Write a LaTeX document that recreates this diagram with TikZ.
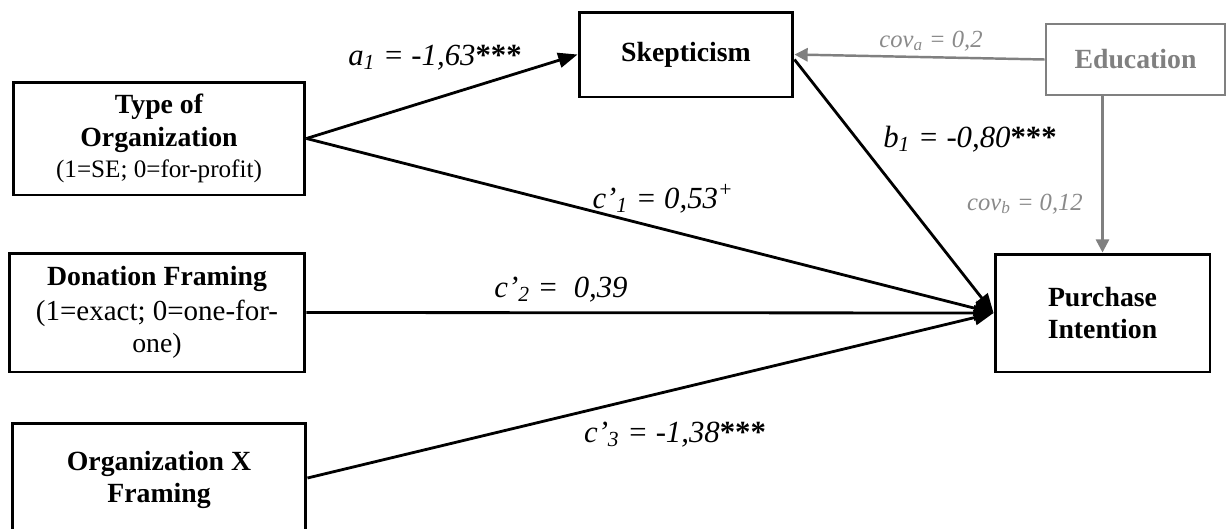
\documentclass[tikz,border=0pt]{standalone}
\usepackage{fontspec}
\setmainfont{Liberation Serif}
\usetikzlibrary{arrows.meta,calc}
\definecolor{edgray}{HTML}{808080}
\definecolor{txgray}{HTML}{8A8A8A}
\tikzset{
  box/.style={draw=black, line width=1.7pt, fill=white, align=center, inner sep=0pt,
    font=\fontsize{15.8}{18.5}\selectfont\bfseries},
  graybox/.style={draw=edgray, line width=1.5pt, fill=white, align=center, inner sep=0pt,
    text=edgray, font=\fontsize{15.8}{18.5}\selectfont\bfseries},
  conn/.style={draw=black, line width=1.6pt, -{Triangle[length=11pt,width=8.5pt]}},
  grayconn/.style={draw=edgray, line width=1.4pt, -{Triangle[length=7.5pt,width=7.5pt]}},
  lab/.style={anchor=base, inner sep=0pt, font=\fontsize{17.5}{20}\selectfont\itshape},
  glab/.style={anchor=base, inner sep=0pt, text=txgray, font=\fontsize{14}{16}\selectfont\itshape}
}
\begin{document}
\begin{tikzpicture}[x=0.02cm,y=-0.02cm]
\useasboundingbox (0,0) rectangle (1227,528);
\clip (0,0) rectangle (1227,528);
% boxes
\node[box, minimum width=5.84cm, minimum height=2.26cm] (typ) at (159,138.5)
  {Type of\\Organization\\[-1pt]\fontsize{14.3}{16.5}\selectfont\mdseries (1=SE; 0=for-profit)};
\node[box, minimum width=5.92cm, minimum height=2.38cm] (don) at (157,312.5)
  {Donation Framing\\[1pt]\fontsize{16.5}{19}\selectfont\mdseries (1=exact; 0=one-for-\\\mdseries one)};
\node[box, minimum width=5.88cm, minimum height=2.28cm] (orgx) at (159,480)
  {Organization X\\Framing};
\node[box, minimum width=4.28cm, minimum height=1.7cm] (skep) at (686,54.5) {Skepticism};
\node[graybox, minimum width=3.58cm, minimum height=1.42cm] (edu) at (1135.5,59.5) {Education};
\node[box, minimum width=4.3cm, minimum height=2.36cm] (pur) at (1102.5,313) {Purchase\\Intention};
% connectors
\draw[conn] (typ.east) -- (skep.west);
\draw[conn] (typ.east) -- (pur.west);
\draw[conn] (don.east) -- (pur.west);
\draw[conn] ([yshift=0.04cm]orgx.east) -- (pur.west);
\draw[conn] ([yshift=-0.1cm]skep.east) -- (pur.west);
\draw[grayconn] (edu.west) -- (skep.east);
\draw[grayconn] (edu.south -| pur.north) -- (pur.north);
% labels
\node[lab] (la) at (435,65) {a\textsubscript{1} = -1,63\textup{\textbf{***}}};
\node[lab] (lb) at (970,147) {b\textsubscript{1} = -0,80\textup{\textbf{***}}};
\node[lab] (lc1) at (663,208) {c’\textsubscript{1} = 0,53\textsuperscript{+}};
\node[lab] (lc2) at (561,297) {c’\textsubscript{2} =\ \ 0,39};
\node[lab] (lc3) at (675,442) {c’\textsubscript{3} = -1,38\textup{\textbf{***}}};
\node[glab] (lcova) at (931,47) {cov\textsubscript{a} = 0,2};
\node[glab] (lcovb) at (1025,210) {cov\textsubscript{b} = 0,12};
\end{tikzpicture}
\end{document}
